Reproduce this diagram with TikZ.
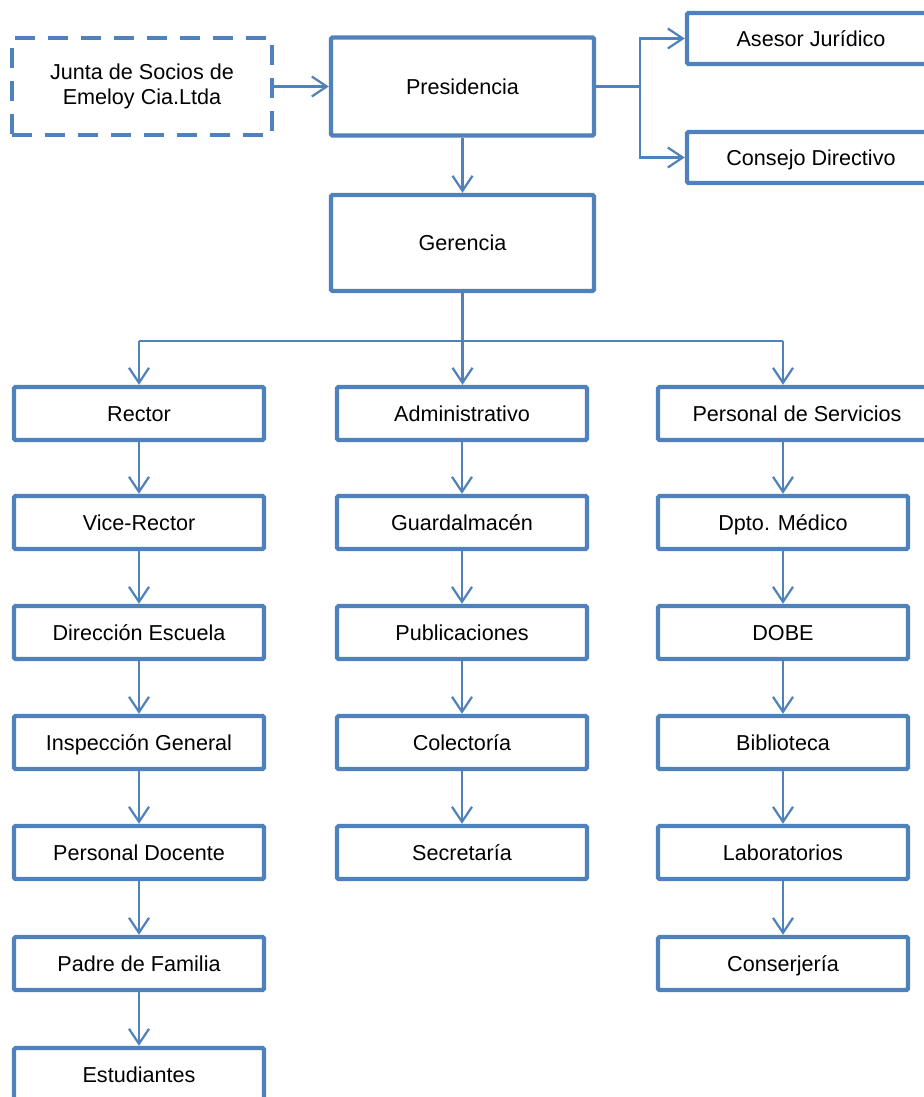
\documentclass[tikz,border=0pt]{standalone}
\usepackage{fontspec}
\setmainfont{Liberation Sans}
\usetikzlibrary{arrows.meta}
\definecolor{obl}{HTML}{4F81BD}
\tikzset{
  basebox/.style={draw=obl, line width=2.2pt, rounded corners=0.8pt, fill=white,
    minimum width=125pt, minimum height=26.5pt, inner sep=0pt, align=center,
    font=\fontsize{10.8}{12.5}\selectfont},
  box/.style={basebox, text height=7.8pt, text depth=0pt},
  bigbox/.style={box, minimum width=131.5pt, minimum height=49pt},
  dashbox/.style={basebox, dash pattern=on 10pt off 6.5pt, rounded corners=0pt, minimum width=130pt, minimum height=48.5pt},
  conn/.style={draw=obl, line width=1.1pt},
  arr/.style={conn, -{Straight Barb[length=7.5pt,width=10pt,line width=1.1pt]}},
}
\begin{document}
\begin{tikzpicture}[x=0.5pt,y=-0.5pt]
\useasboundingbox (0,0) rectangle (924,1097);
\clip (0,0) rectangle (924,1097);
% top
\node[dashbox] (junta) at (142,86.5) {Junta de Socios de\\Emeloy Cia.Ltda};
\node[bigbox] (pres) at (462.5,86.5) {Presidencia};
\node[box, minimum width=124pt, minimum height=25.5pt] (ases) at (811,38.5) {Asesor Jurídico};
\node[box, minimum width=124pt, minimum height=25.5pt] (cons) at (811,157.5) {Consejo Directivo};
\node[bigbox, minimum height=48pt] (ger) at (462.5,243) {Gerencia};
% columns
\node[box] (r1) at (139,413.5) {Rector};
\node[box] (r2) at (139,522.5) {Vice-Rector};
\node[box] (r3) at (139,632.5) {Dirección Escuela};
\node[box] (r4) at (139,742.5) {Inspección General};
\node[box] (r5) at (139,852.5) {Personal Docente};
\node[box] (r6) at (139,963.5) {Padre de Familia};
\node[box] (r7) at (139,1074.5) {Estudiantes};
\node[box] (a1) at (462,413.5) {Administrativo};
\node[box] (a2) at (462,522.5) {Guardalmacén};
\node[box] (a3) at (462,632.5) {Publicaciones};
\node[box] (a4) at (462,742.5) {Colectoría};
\node[box] (a5) at (462,852.5) {Secretaría};
\node[box, minimum width=139pt] (p1) at (797,413.5) {Personal de Servicios};
\node[box] (p2) at (783,522.5) {Dpto. Médico};
\node[box] (p3) at (783,632.5) {DOBE};
\node[box] (p4) at (783,742.5) {Biblioteca};
\node[box] (p5) at (783,852.5) {Laboratorios};
\node[box] (p6) at (783,963.5) {Conserjería};
% connectors top
\coordinate (br) at (640,86.5);
\draw[arr] (junta.east) -- (pres.west);
\draw[conn] (pres.east) -- (br);
\draw[arr] (br) |- (ases.west);
\draw[arr] (br) |- (cons.west);
\draw[arr] (pres.south) -- (ger.north);
% distribution
\coordinate (gm) at (462.5,341);
\coordinate (hl) at (139,341);
\coordinate (hr) at (783,341);
\draw[conn] (ger.south) -- (gm);
\draw[conn] (hl) -- (hr);
\draw[arr] (hl) -- (r1.north);
\draw[arr] (gm) -- (gm |- a1.north);
\draw[arr] (hr) -- (hr |- p1.north);
% columns
\foreach \u/\v in {r1/r2,r2/r3,r3/r4,r4/r5,r5/r6,r6/r7,a1/a2,a2/a3,a3/a4,a4/a5,p2/p3,p3/p4,p4/p5,p5/p6}
  \draw[arr] (\u.south) -- (\v.north);
\draw[arr] (p2.north |- p1.south) -- (p2.north);
\end{tikzpicture}
\end{document}
